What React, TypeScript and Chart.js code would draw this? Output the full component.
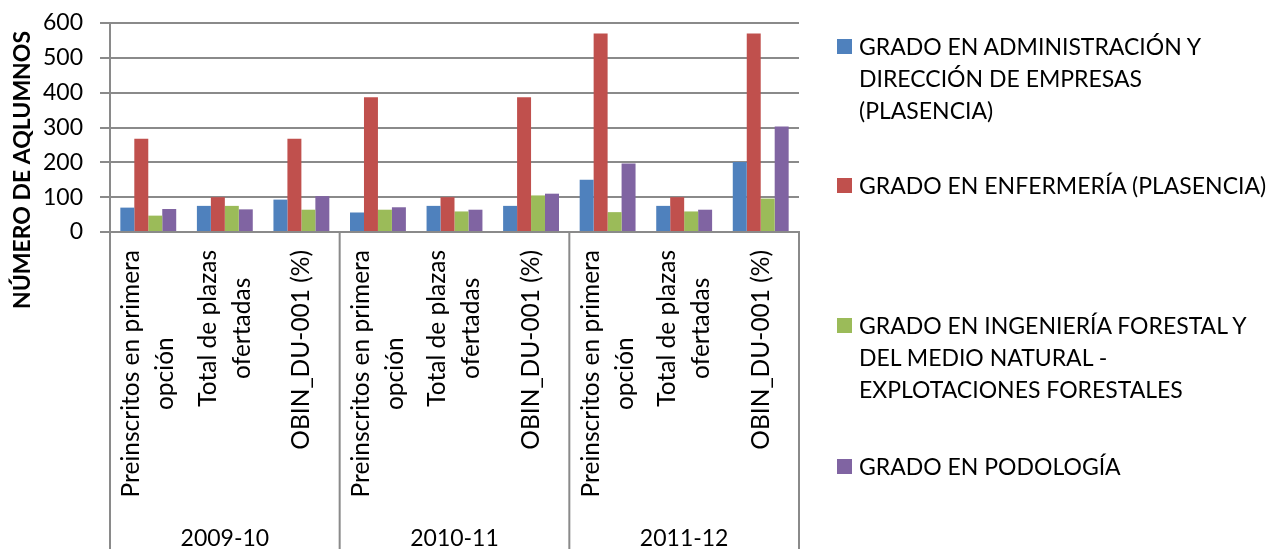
import React, { useEffect, useRef } from "react";
import { Chart, registerables } from "chart.js";

Chart.register(...registerables);

// ---------- data ----------
const categories: string[][] = [
  ["Preinscritos en primera", "opción"],
  ["Total de plazas", "ofertadas"],
  ["OBIN_DU-001 (%)"],
  ["Preinscritos en primera", "opción"],
  ["Total de plazas", "ofertadas"],
  ["OBIN_DU-001 (%)"],
  ["Preinscritos en primera", "opción"],
  ["Total de plazas", "ofertadas"],
  ["OBIN_DU-001 (%)"],
];
const periods = ["2009-10", "2010-11", "2011-12"];

const seriesLegendLines: string[][] = [
  ["GRADO EN ADMINISTRACIÓN Y", "DIRECCIÓN DE EMPRESAS", "(PLASENCIA)"],
  ["GRADO EN ENFERMERÍA (PLASENCIA)"],
  ["GRADO EN INGENIERÍA FORESTAL Y", "DEL MEDIO NATURAL -", "EXPLOTACIONES FORESTALES"],
  ["GRADO EN PODOLOGÍA"],
];
const seriesColors = ["#4F81BD", "#C0504D", "#9BBB59", "#8064A2"];

const adeValues = [70, 75, 93, 56, 75, 75, 150, 75, 201];
const enfermeriaValues = [268, 100, 268, 387, 100, 387, 570, 100, 570];
const forestalValues = [47, 75, 64, 64, 59, 105, 57, 59, 96];
const podologiaValues = [66, 65, 103, 71, 64, 110, 197, 64, 303];
const seriesValues = [adeValues, enfermeriaValues, forestalValues, podologiaValues];

const yMin = 0;
const yMax = 600;
const yStep = 100;
const yAxisTitle = "NÚMERO DE AQLUMNOS";

// ---------- style ----------
const GRID = "#8a8a8a";
const FONT = "Lato";
const FONT_SIZE = 23;
const CAT_FONT_SIZE = 24.5;

const multiLevelAxis = {
  id: "multiLevelAxis",
  afterDraw(chart: any) {
    const { ctx, chartArea, scales } = chart;
    const x = scales.x;
    const H = chart.height;
    const n = categories.length;
    const per = n / periods.length;
    const step = x.getPixelForValue(1) - x.getPixelForValue(0);
    const bounds: number[] = [];
    for (let g = 0; g <= periods.length; g++) {
      bounds.push(x.getPixelForValue(g * per) - step / 2);
    }
    ctx.save();
    ctx.strokeStyle = GRID;
    ctx.lineWidth = 2;
    ctx.beginPath();
    bounds.forEach((bx) => {
      ctx.moveTo(bx, chartArea.bottom);
      ctx.lineTo(bx, H);
    });
    ctx.stroke();

    ctx.fillStyle = "#000";
    ctx.font = `${CAT_FONT_SIZE}px ${FONT}`;
    ctx.textAlign = "center";
    ctx.textBaseline = "middle";
    categories.forEach((lines, i) => {
      const cx = x.getPixelForValue(i);
      const maxW = Math.max(...lines.map((l) => ctx.measureText(l).width));
      const cy = chartArea.bottom + 18 + maxW / 2;
      lines.forEach((line, j) => {
        const off = (j - (lines.length - 1) / 2) * 34;
        ctx.save();
        ctx.translate(cx + off, cy);
        ctx.rotate(-Math.PI / 2);
        ctx.fillText(line, 0, 0);
        ctx.restore();
      });
    });

    ctx.font = `${FONT_SIZE}px ${FONT}`;
    ctx.textBaseline = "alphabetic";
    periods.forEach((p, g) => {
      ctx.fillText(p, (bounds[g] + bounds[g + 1]) / 2, H - 3);
    });

    ctx.font = `bold ${FONT_SIZE}px ${FONT}`;
    ctx.textBaseline = "middle";
    ctx.save();
    ctx.translate(23, 170);
    ctx.rotate(-Math.PI / 2);
    ctx.fillText(yAxisTitle, 0, 0);
    ctx.restore();
    ctx.restore();
  },
};

const legendTops = [30, 169, 309, 450];

export default function App() {
  const canvasRef = useRef<HTMLCanvasElement | null>(null);

  useEffect(() => {
    if (!canvasRef.current) return;
    Chart.defaults.font.family = FONT;
    const chart = new Chart(canvasRef.current, {
      type: "bar",
      data: {
        labels: categories,
        datasets: seriesValues.map((vals, i) => ({
          label: seriesLegendLines[i].join(" "),
          data: vals,
          backgroundColor: seriesColors[i],
          borderWidth: 0,
          categoryPercentage: 0.73,
          barPercentage: 1,
        })),
      },
      options: {
        responsive: false,
        animation: false,
        layout: { padding: { left: 0, right: 468, top: 23, bottom: 0 } },
        plugins: {
          legend: { display: false },
          tooltip: { enabled: false },
        },
        scales: {
          x: {
            ticks: { display: false },
            grid: { display: false },
            border: { display: true, color: GRID, width: 2 },
            afterFit: (scale: any) => {
              scale.height = 317;
            },
          },
          y: {
            min: yMin,
            max: yMax,
            ticks: {
              stepSize: yStep,
              color: "#000",
              font: { size: FONT_SIZE, family: FONT },
              padding: 17,
            },
            grid: {
              color: GRID,
              lineWidth: 2,
              drawTicks: true,
              tickLength: 10,
            },
            border: { display: true, color: GRID, width: 2 },
            afterFit: (scale: any) => {
              scale.width = 110;
              scale.paddingTop = 0;
              scale.paddingBottom = 0;
            },
          },
        },
      },
      plugins: [multiLevelAxis],
    });
    return () => chart.destroy();
  }, []);

  return (
    <div
      style={{
        position: "fixed",
        left: 0,
        top: 0,
        width: 1267,
        height: 549,
        background: "#fff",
        overflow: "hidden",
      }}
    >
      <canvas ref={canvasRef} width={1267} height={549} style={{ position: "absolute", left: 0, top: 0 }} />
      {seriesLegendLines.map((lines, i) => (
        <div
          key={i}
          style={{
            position: "absolute",
            left: 837,
            top: legendTops[i],
            fontFamily: FONT,
            fontSize: FONT_SIZE,
            lineHeight: "32px",
            color: "#000",
            whiteSpace: "nowrap",
          }}
        >
          <span
            style={{
              position: "absolute",
              left: 0,
              top: 9,
              width: 15,
              height: 15,
              background: seriesColors[i],
            }}
          />
          <div style={{ marginLeft: 22 }}>
            {lines.map((l, j) => (
              <div key={j}>{l}</div>
            ))}
          </div>
        </div>
      ))}
    </div>
  );
}
